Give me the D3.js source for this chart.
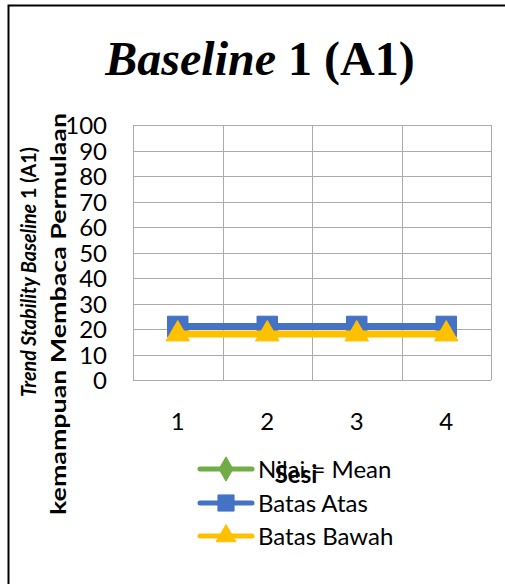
<!DOCTYPE html>
<html>
<head>
<meta charset="utf-8">
<script src="https://cdn.jsdelivr.net/npm/d3@7/dist/d3.min.js"></script>
<style>
  html, body { margin: 0; padding: 0; background: #fff; }
  svg { display: block; }
</style>
</head>
<body>
<svg id="chart" width="505" height="584"></svg>
<script>
// Sessions on the x axis
const sessions = ["1", "2", "3", "4"];
// Series values per session
const meanValues = [];               // Nilai = Mean (no plotted points)
const upperValues = [21, 21, 21, 21]; // Batas Atas
const lowerValues = [18, 18, 18, 18]; // Batas Bawah
// Y axis ticks
const yTicks = [0, 10, 20, 30, 40, 50, 60, 70, 80, 90, 100];
const seriesNames = ["Nilai = Mean", "Batas Atas", "Batas Bawah"];

const svg = d3.select("#chart");
const font = "Lato, 'Open Sans', sans-serif";

// Outer chart frame
svg.append("rect")
  .attr("x", 8.5).attr("y", 5.5).attr("width", 600).attr("height", 700)
  .attr("fill", "#fff").attr("stroke", "#000").attr("stroke-width", 2);

// Title
const title = svg.append("text")
  .attr("x", 260).attr("y", 75)
  .attr("text-anchor", "middle")
  .attr("font-family", "'Liberation Serif', 'Times New Roman', serif")
  .attr("font-size", 48).attr("font-weight", "bold").attr("fill", "#000");
title.append("tspan").attr("font-style", "italic").text("Baseline");
title.append("tspan").text(" 1 (A1)");

// Plot area
const plot = { left: 133, right: 491, top: 125, bottom: 380 };
const x = d3.scaleBand().domain(sessions).range([plot.left, plot.right]);
const y = d3.scaleLinear().domain([0, 100]).range([plot.bottom, plot.top]);

// Horizontal gridlines
svg.append("g")
  .selectAll("line").data(yTicks).join("line")
  .attr("x1", plot.left).attr("x2", plot.right)
  .attr("y1", d => Math.round(y(d)) + 0.5).attr("y2", d => Math.round(y(d)) + 0.5)
  .attr("stroke", "#ababab").attr("stroke-width", 1);

// Vertical gridlines at category boundaries
const bounds = sessions.map(s => x(s)).concat([plot.right]);
svg.append("g")
  .selectAll("line").data(bounds).join("line")
  .attr("x1", d => Math.round(d) + 0.5).attr("x2", d => Math.round(d) + 0.5)
  .attr("y1", plot.top).attr("y2", plot.bottom)
  .attr("stroke", "#ababab").attr("stroke-width", 1);

// Y axis labels
const yAxis = d3.axisLeft(y).tickValues(yTicks).tickSize(0).tickPadding(0);
const gy = svg.append("g").attr("transform", `translate(${plot.left - 26},0)`).call(yAxis);
gy.select(".domain").remove();
gy.selectAll("text")
  .attr("font-family", font).attr("font-size", 24).attr("fill", "#000")
  .attr("dy", "0.36em");

// X axis labels
const xAxis = d3.axisBottom(x).tickSize(0).tickPadding(0);
const gx = svg.append("g").attr("transform", `translate(0,${plot.bottom + 33})`).call(xAxis);
gx.select(".domain").remove();
gx.selectAll("text")
  .attr("font-family", font).attr("font-size", 24).attr("fill", "#000")
  .attr("dy", "0.72em");

// Series drawing
const colors = { mean: "#70ad47", upper: "#4472c4", lower: "#ffc000" };
const line = d3.line().x((d, i) => x(sessions[i]) + x.bandwidth() / 2).y(d => y(d));

function drawSeries(values, color, shape, size) {
  if (!values.length) return;
  svg.append("path").datum(values)
    .attr("d", line).attr("fill", "none")
    .attr("stroke", color).attr("stroke-width", 7).attr("stroke-linejoin", "round");
  svg.append("g").selectAll("path").data(values).join("path")
    .attr("transform", (d, i) => `translate(${x(sessions[i]) + x.bandwidth() / 2},${y(d)})`)
    .attr("d", d3.symbol().type(shape).size(size)())
    .attr("fill", color).attr("stroke", color).attr("stroke-width", 1);
}
drawSeries(meanValues, colors.mean, d3.symbolDiamond, 200);
drawSeries(upperValues, colors.upper, d3.symbolSquare, 420);
drawSeries(lowerValues, colors.lower, d3.symbolTriangle, 240);

// Y axis title (two lines, rotated)
const yt1 = svg.append("text")
  .attr("transform", "translate(36,272) rotate(-90)")
  .attr("text-anchor", "middle")
  .attr("textLength", 250).attr("lengthAdjust", "spacingAndGlyphs")
  .attr("font-family", font).attr("font-size", 21).attr("font-weight", "bold").attr("fill", "#000");
yt1.append("tspan").attr("font-style", "italic").text("Trend Stability Baseline");
yt1.append("tspan").text(" 1 (A1)");

svg.append("text")
  .attr("transform", "translate(66,314) rotate(-90)")
  .attr("text-anchor", "middle")
  .attr("textLength", 402).attr("lengthAdjust", "spacingAndGlyphs")
  .attr("font-family", font).attr("font-size", 21).attr("font-weight", "bold").attr("fill", "#000")
  .text("kemampuan Membaca Permulaan");

// Legend
const legendRows = [
  { name: seriesNames[0], color: colors.mean, shape: d3.symbolDiamond, size: 170, y: 469 },
  { name: seriesNames[1], color: colors.upper, shape: d3.symbolSquare, size: 260, y: 503 },
  { name: seriesNames[2], color: colors.lower, shape: d3.symbolTriangle, size: 170, y: 536 }
];
const lg = svg.append("g");
legendRows.forEach(r => {
  lg.append("line")
    .attr("x1", 200).attr("x2", 252).attr("y1", r.y).attr("y2", r.y)
    .attr("stroke", r.color).attr("stroke-width", 5).attr("stroke-linecap", "round");
  lg.append("path")
    .attr("transform", `translate(226,${r.y})`)
    .attr("d", d3.symbol().type(r.shape).size(r.size)())
    .attr("fill", r.color).attr("stroke", r.color).attr("stroke-width", 1);
  lg.append("text")
    .attr("x", 258).attr("y", r.y + 9)
    .attr("font-family", font).attr("font-size", 24).attr("fill", "#000")
    .text(r.name);
});

// X axis title
svg.append("text")
  .attr("x", 296).attr("y", 483)
  .attr("text-anchor", "middle")
  .attr("font-family", font).attr("font-size", 24).attr("font-weight", "bold").attr("fill", "#000")
  .text("Sesi");
</script>
</body>
</html>
